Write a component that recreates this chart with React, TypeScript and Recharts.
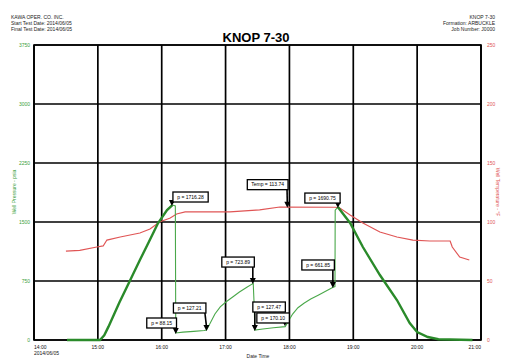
import React from 'react';
import {
  ComposedChart,
  Line,
  XAxis,
  YAxis,
  CartesianGrid,
  ReferenceDot,
  ReferenceArea,
} from 'recharts';

// ---- tick labels ----
const hourTicks = [0, 60, 120, 180, 240, 300, 360, 420]; // minutes after 14:00
const hourLabels = ['14:00', '15:00', '16:00', '17:00', '18:00', '19:00', '20:00', '21:00'];
const dateLabel = '2014/06/05';
const pressureTicks = [0, 750, 1500, 2250, 3000, 3750];
const tempTicks = [0, 50, 100, 150, 200, 250];

// ---- header texts ----
const headerLeft = ['KAWA OPER. CO. INC.', 'Start Test Date: 2014/06/05', 'Final Test Date: 2014/06/05'];
const headerRight = ['KNOP 7-30', 'Formation: ARBUCKLE', 'Job Number: J0000'];
const chartTitle = 'KNOP 7-30';

// ---- pressure: running in (psia) ----
const runInTime = [31, 62, 66, 70, 80, 90, 99.5, 108, 116.6, 125, 130];
const runInPsi = [0, 0, 60, 170, 470, 750, 1017, 1250, 1487, 1652, 1716];

// ---- pressure: test period (psia) ----
const testTime = [130, 132.8, 133.2, 140, 150, 160, 162, 165, 170, 175, 180, 187, 193, 200, 206, 207, 207.5, 215, 225, 236, 239, 243, 248, 254, 260, 267, 274, 281, 282.8, 283, 285.5];
const testPsi = [1716, 1705, 89, 100, 110, 120, 127, 200, 330, 420, 480, 550, 610, 670, 720, 400, 127, 140, 155, 170, 240, 330, 410, 470, 520, 570, 620, 670, 680, 1650, 1690];

// ---- pressure: pulling out (psia) ----
const pullTime = [285.5, 297, 309, 325, 341, 353, 360, 370, 380, 412];
const pullPsi = [1690, 1487, 1182, 826, 508, 216, 102, 38, 10, 0];

// ---- temperature (deg F) ----
const tempTime = [30, 43, 59, 65, 68.5, 81, 99.5, 109, 118, 128, 134, 142, 184, 212, 231, 283, 287, 297, 309, 325, 341, 356, 372, 391, 393, 400, 409];
const tempF = [75.4, 76, 78.8, 79.7, 84.7, 87.3, 90.7, 94, 100, 103.4, 106.8, 108.5, 108.5, 110.2, 112.7, 112.5, 112, 106, 99.2, 91.5, 87.3, 84.7, 83.9, 83.9, 78.8, 70.3, 67.8];

// ---- callouts ----
const calloutTime = [129.6, 133.2, 162, 205.6, 207.5, 235.7, 280.8, 285.5, 238];
const calloutValue = [1716, 89, 127, 724, 127, 191, 674, 1690, 113];
const calloutAxis = ['p', 'p', 'p', 'p', 'p', 'p', 'p', 'p', 't'];
const calloutText = ['p = 1716.28', 'p = 88.15', 'p = 127.21', 'p = 723.89', 'p = 127.47', 'p = 170.10', 'p = 661.85', 'p = 1690.75', 'Temp = 113.74'];
// box offsets (layout only)
const calloutLayout = [
  { dx: 1, dy: -13 },
  { dx: -29, dy: -15 },
  { dx: -33, dy: -27 },
  { dx: -31, dy: -26 },
  { dx: -2, dy: -28 },
  { dx: -28, dy: -12 },
  { dx: -31, dy: -27 },
  { dx: -33, dy: -14 },
  { dx: -40, dy: -27 },
];

const runInData = runInTime.map((t, i) => ({ t, p: runInPsi[i] }));
const testData = testTime.map((t, i) => ({ t, p: testPsi[i] }));
const pullData = pullTime.map((t, i) => ({ t, p: pullPsi[i] }));
const tempData = tempTime.map((t, i) => ({ t, f: tempF[i] }));

const FONT = '"Liberation Sans", Arial, sans-serif';
const GREEN_DARK = '#2a8a2a';
const GREEN_THIN = '#4aa84a';
const RED = '#e05555';
const AXIS_GREEN = '#3aa03a';

const XTick = (props: any) => {
  const { x, y, payload } = props;
  const idx = hourTicks.indexOf(payload.value);
  const anchor = idx === 0 ? 'start' : idx === hourTicks.length - 1 ? 'end' : 'middle';
  return (
    <g>
      <text x={x} y={y + 9} textAnchor={anchor} fontSize={5} fill="#111" fontFamily={FONT}>
        {hourLabels[idx]}
      </text>
      {idx === 0 && (
        <text x={x} y={y + 15} textAnchor="start" fontSize={5} fill="#111" fontFamily={FONT}>
          {dateLabel}
        </text>
      )}
    </g>
  );
};

const makeCallout = (i: number) => (props: any) => {
  const { cx, cy } = props;
  if (cx == null || cy == null) return null;
  const text = calloutText[i];
  const w = text.length * 2.75 + 5;
  const h = 10;
  const bx = cx + calloutLayout[i].dx;
  const by = cy + calloutLayout[i].dy;
  const lx = Math.min(Math.max(cx, bx + 1), bx + w - 1);
  return (
    <g>
      <line x1={lx} y1={by + h} x2={cx} y2={cy - 4} stroke="#000" strokeWidth={1.6} />
      <polygon points={`${cx - 3},${cy - 5} ${cx + 3},${cy - 5} ${cx},${cy + 1}`} fill="#000" />
      <rect x={bx} y={by} width={w} height={h} fill="#fff" stroke="#000" strokeWidth={1.3} />
      <text x={bx + w / 2} y={by + 6.8} textAnchor="middle" fontSize={5} fill="#000" fontFamily={FONT}>
        {text}
      </text>
    </g>
  );
};

export default function App() {
  return (
    <div style={{ position: 'absolute', left: 0, top: 0, width: 507, height: 360, background: '#fff', fontFamily: FONT }}>
      <ComposedChart
        width={507}
        height={360}
        margin={{ top: 45, right: 6, bottom: 0, left: 4 }}
        style={{ position: 'absolute', left: 0, top: 0 }}
      >
        <CartesianGrid yAxisId="p" stroke="#000" strokeWidth={1.7} strokeOpacity={1} />
        <XAxis
          dataKey="t"
          type="number"
          domain={[0, 420]}
          ticks={hourTicks}
          allowDataOverflow
          height={20}
          axisLine={false}
          tickLine={false}
          tickSize={0}
          tickMargin={0}
          tick={<XTick />}
          interval={0}
        />
        <YAxis
          yAxisId="p"
          orientation="left"
          width={30}
          domain={[0, 3750]}
          ticks={pressureTicks}
          axisLine={false}
          tickLine={false}
          tickSize={2}
          tickMargin={2}
          tick={{ fontSize: 5, fill: AXIS_GREEN, fontFamily: FONT }}
          interval={0}
        />
        <YAxis
          yAxisId="t"
          orientation="right"
          width={20}
          domain={[0, 250]}
          ticks={tempTicks}
          axisLine={false}
          tickLine={false}
          tickSize={4}
          tickMargin={2}
          tick={{ fontSize: 5, fill: RED, fontFamily: FONT }}
          interval={0}
        />
        <ReferenceArea yAxisId="p" x1={0} x2={420} y1={0} y2={3750} fill="none" stroke="#000" strokeWidth={1.7} ifOverflow="visible" />
        <Line yAxisId="t" data={tempData} dataKey="f" stroke={RED} strokeWidth={1.2} dot={false} isAnimationActive={false} type="linear" />
        <Line yAxisId="p" data={testData} dataKey="p" stroke={GREEN_THIN} strokeWidth={1.1} dot={false} isAnimationActive={false} type="linear" />
        <Line yAxisId="p" data={runInData} dataKey="p" stroke={GREEN_DARK} strokeWidth={2.4} dot={false} isAnimationActive={false} type="linear" />
        <Line yAxisId="p" data={pullData} dataKey="p" stroke={GREEN_DARK} strokeWidth={2.4} dot={false} isAnimationActive={false} type="linear" />
        {calloutTime.map((t, i) => (
          <ReferenceDot
            key={i}
            yAxisId={calloutAxis[i]}
            x={t}
            y={calloutValue[i]}
            r={3}
            ifOverflow="visible"
            shape={makeCallout(i)}
          />
        ))}
      </ComposedChart>
      <svg width={507} height={360} style={{ position: 'absolute', left: 0, top: 0, pointerEvents: 'none' }}>
        {headerLeft.map((s, i) => (
          <text key={'l' + i} x={11} y={19 + i * 6} fontSize={5} fill="#222" fontFamily={FONT}>{s}</text>
        ))}
        {headerRight.map((s, i) => (
          <text key={'r' + i} x={495} y={19 + i * 6} fontSize={5} fill="#222" textAnchor="end" fontFamily={FONT}>{s}</text>
        ))}
        <text x={256} y={42} fontSize={13} fontWeight="bold" textAnchor="middle" fill="#000" fontFamily={FONT}>{chartTitle}</text>
        <text x={16} y={192} fontSize={5} fill={AXIS_GREEN} textAnchor="middle" fontFamily={FONT} transform="rotate(-90 16 192)">Well Pressure - psia</text>
        <text x={496} y={192} fontSize={5} fill={RED} textAnchor="middle" fontFamily={FONT} transform="rotate(90 496 192)">Well Temperature - °F</text>
        <text x={258} y={358} fontSize={5} fill="#222" textAnchor="middle" fontFamily={FONT}>Date Time</text>
      </svg>
    </div>
  );
}
